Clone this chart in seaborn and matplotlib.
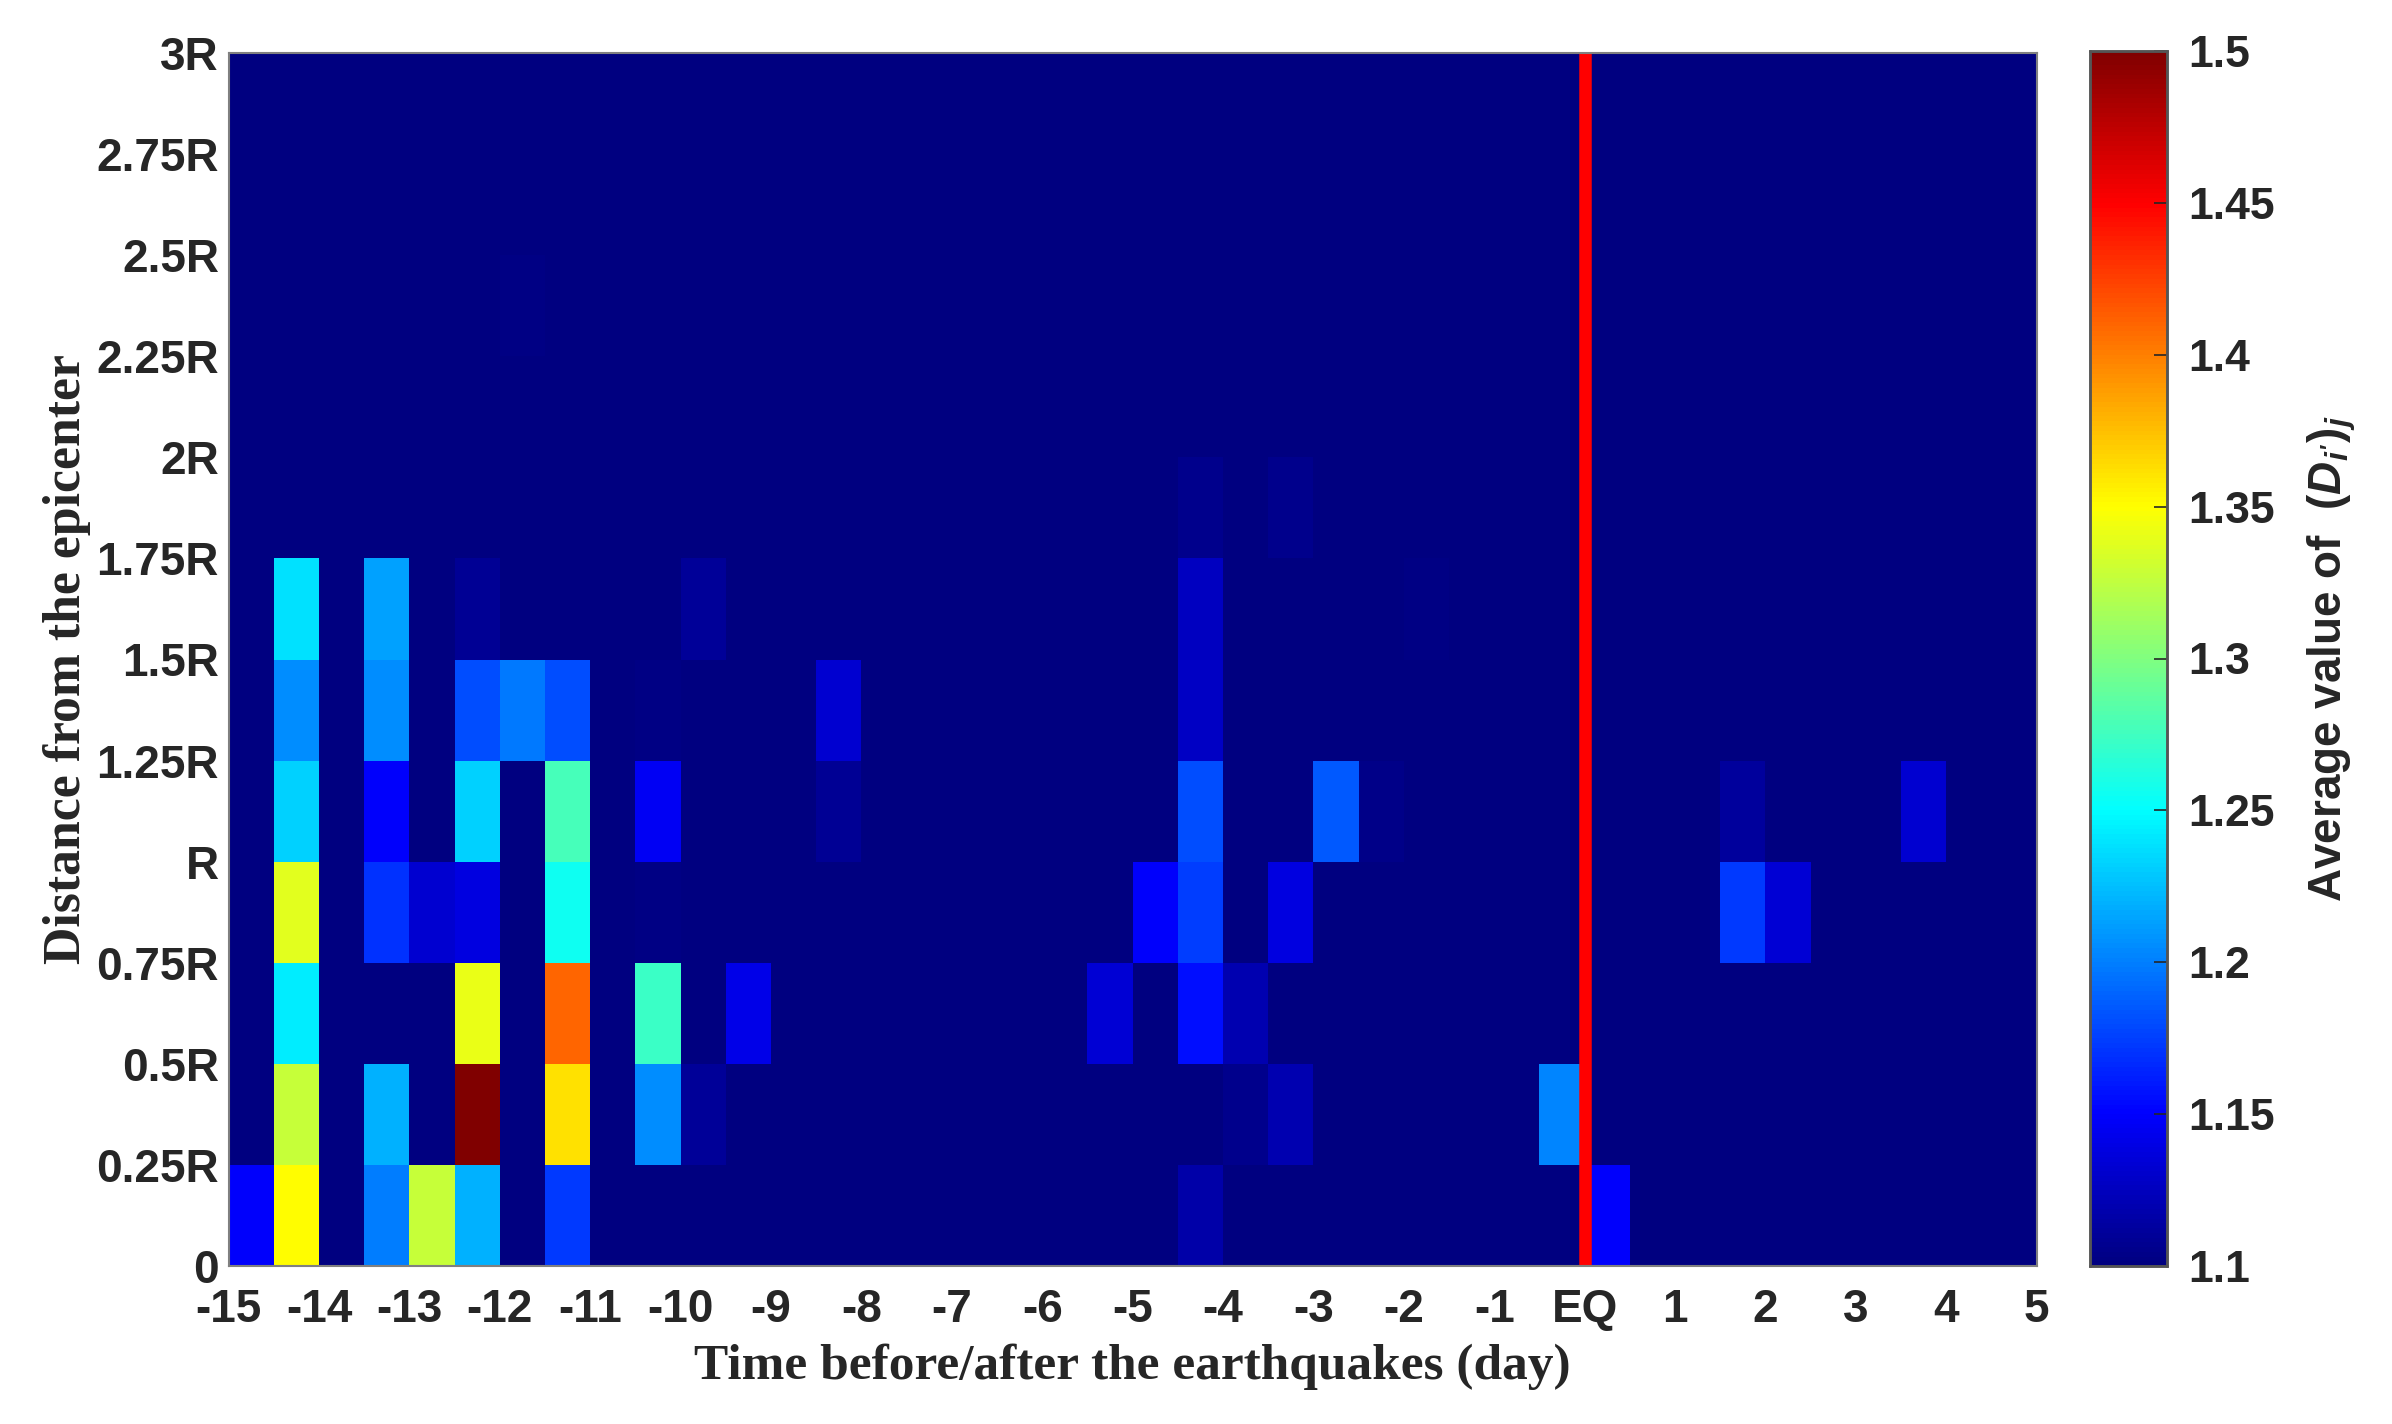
import numpy as np
import matplotlib
matplotlib.use("Agg")
import matplotlib.pyplot as plt
from matplotlib.colors import LinearSegmentedColormap
import seaborn as sns

# half-day columns from -15 to 5, rows listed from the epicenter outwards
row_0_025 = [1.15,1.35,1.1,1.2,1.328,1.22,1.1,1.172,1.1,1.1,1.1,1.1,1.1,1.1,1.1,1.1,1.1,1.1,1.1,1.1,1.1,1.116,1.1,1.1,1.1,1.1,1.1,1.1,1.1,1.1,1.15,1.1,1.1,1.1,1.1,1.1,1.1,1.1,1.1,1.1]
row_025_05 = [1.1,1.328,1.1,1.22,1.1,1.5,1.1,1.362,1.1,1.206,1.11,1.1,1.1,1.1,1.1,1.1,1.1,1.1,1.1,1.1,1.1,1.1,1.106,1.119,1.1,1.1,1.1,1.1,1.1,1.203,1.1,1.1,1.1,1.1,1.1,1.1,1.1,1.1,1.1,1.1]
row_05_075 = [1.1,1.243,1.1,1.1,1.1,1.341,1.1,1.41,1.1,1.272,1.1,1.142,1.1,1.1,1.1,1.1,1.1,1.1,1.1,1.134,1.1,1.156,1.119,1.1,1.1,1.1,1.1,1.1,1.1,1.1,1.1,1.1,1.1,1.1,1.1,1.1,1.1,1.1,1.1,1.1]
row_075_1 = [1.1,1.338,1.1,1.169,1.132,1.138,1.1,1.256,1.1,1.102,1.1,1.1,1.1,1.1,1.1,1.1,1.1,1.1,1.1,1.1,1.15,1.175,1.1,1.138,1.1,1.1,1.1,1.1,1.1,1.1,1.1,1.1,1.1,1.172,1.134,1.1,1.1,1.1,1.1,1.1]
row_1_125 = [1.1,1.232,1.1,1.15,1.1,1.232,1.1,1.278,1.1,1.146,1.1,1.1,1.1,1.109,1.1,1.1,1.1,1.1,1.1,1.1,1.1,1.181,1.1,1.1,1.185,1.104,1.1,1.1,1.1,1.1,1.1,1.1,1.1,1.112,1.1,1.1,1.1,1.132,1.1,1.1]
row_125_15 = [1.1,1.206,1.1,1.206,1.1,1.181,1.197,1.181,1.1,1.103,1.1,1.1,1.1,1.132,1.1,1.1,1.1,1.1,1.1,1.1,1.1,1.128,1.1,1.1,1.1,1.1,1.1,1.1,1.1,1.1,1.1,1.1,1.1,1.1,1.1,1.1,1.1,1.1,1.1,1.1]
row_15_175 = [1.1,1.238,1.1,1.213,1.1,1.109,1.1,1.1,1.1,1.1,1.11,1.1,1.1,1.1,1.1,1.1,1.1,1.1,1.1,1.1,1.1,1.126,1.1,1.1,1.1,1.1,1.102,1.1,1.1,1.1,1.1,1.1,1.1,1.1,1.1,1.1,1.1,1.1,1.1,1.1]
row_175_2 = [1.1,1.1,1.1,1.1,1.1,1.1,1.1,1.1,1.1,1.1,1.1,1.1,1.1,1.1,1.1,1.1,1.1,1.1,1.1,1.1,1.1,1.106,1.1,1.106,1.1,1.1,1.1,1.1,1.1,1.1,1.1,1.1,1.1,1.1,1.1,1.1,1.1,1.1,1.1,1.1]
row_2_225 = [1.1] * 40
row_225_25 = [1.1,1.1,1.1,1.1,1.1,1.1,1.102,1.1,1.1,1.1,1.1,1.1,1.1,1.1,1.1,1.1,1.1,1.1,1.1,1.1,1.1,1.1,1.1,1.1,1.1,1.1,1.1,1.1,1.1,1.1,1.1,1.1,1.1,1.1,1.1,1.1,1.1,1.1,1.1,1.1]
row_25_275 = [1.1] * 40
row_275_3 = [1.1] * 40

x_labels = ["-15","-14","-13","-12","-11","-10","-9","-8","-7","-6","-5","-4","-3","-2","-1","EQ","1","2","3","4","5"]
y_labels = ["0","0.25R","0.5R","0.75R","R","1.25R","1.5R","1.75R","2R","2.25R","2.5R","2.75R","3R"]
cbar_ticks = [1.1,1.15,1.2,1.25,1.3,1.35,1.4,1.45,1.5]
cbar_labels = ["1.1","1.15","1.2","1.25","1.3","1.35","1.4","1.45","1.5"]

values = np.array([row_0_025,row_025_05,row_05_075,row_075_1,row_1_125,row_125_15,
                   row_15_175,row_175_2,row_2_225,row_225_25,row_25_275,row_275_3])

W, H = 2392, 1424
TEXT = "#262626"
EDGE = "#808080"
sans = ["Liberation Sans", "DejaVu Sans"]
serif = ["Liberation Serif", "DejaVu Serif"]

# bold italic for the math part of the colorbar label
plt.rcParams["mathtext.fontset"] = "custom"
plt.rcParams["mathtext.it"] = "Liberation Sans:italic:bold"
plt.rcParams["mathtext.rm"] = "Liberation Sans:bold"

# MATLAB flavour of jet, its anchors sit a little off matplotlib's
matlab_jet = LinearSegmentedColormap.from_list("matlab_jet", [
    (0.0, "#000080"), (0.125, "#0000ff"), (0.375, "#00ffff"),
    (0.625, "#ffff00"), (0.875, "#ff0000"), (1.0, "#800000")], N=256)

fig = plt.figure(figsize=(W / 100, H / 100), dpi=100)
ax = fig.add_axes([228.6 / W, 1 - 1266 / H, (2036.6 - 228.6) / W, (1266 - 53) / H])
cax = fig.add_axes([2090 / W, 1 - 1266 / H, 77 / W, (1266 - 51) / H])

sns.heatmap(values, ax=ax, cbar_ax=cax, cmap=matlab_jet, vmin=1.1, vmax=1.5,
            xticklabels=False, yticklabels=False,
            cbar_kws={"ticks": cbar_ticks})
ax.invert_yaxis()

# earthquake day
ax.axvline(30, color="#ff0000", lw=9)

ax.set_xticks(np.arange(0, 41, 2))
ax.set_xticklabels(x_labels, fontsize=33, fontweight="bold", family=sans, color=TEXT)
ax.set_yticks(np.arange(0, 13))
ax.set_yticklabels(y_labels, fontsize=33, fontweight="bold", family=sans, color=TEXT, rotation=0)
ax.tick_params(axis="both", length=0)
ax.tick_params(axis="x", pad=16)
ax.tick_params(axis="y", pad=7)
for s in ax.spines.values():
    s.set_visible(True)
    s.set_color(EDGE)
    s.set_linewidth(1.5)

ax.set_xlabel("Time before/after the earthquakes (day)", fontsize=37, fontweight="bold",
              family=serif, color=TEXT, labelpad=8)
ax.set_ylabel("Distance from the epicenter", fontsize=37.3, fontweight="bold",
              family=serif, color=TEXT, labelpad=4)

cax.set_yticks(cbar_ticks)
cax.set_yticklabels(cbar_labels, fontsize=32, fontweight="bold", family=sans, color=TEXT)
cax.tick_params(axis="y", direction="in", length=9.5, width=1.2, color=TEXT, pad=15, right=True)
for s in cax.spines.values():
    s.set_visible(True)
    s.set_color("#555555")
    s.set_linewidth(1.8)
cax.set_ylabel(r"Average value of  $(D_{i'})_j$", fontsize=33, fontweight="bold",
               family=sans, color=TEXT, labelpad=22)

plt.savefig("out.png", dpi=100)
plt.close()
